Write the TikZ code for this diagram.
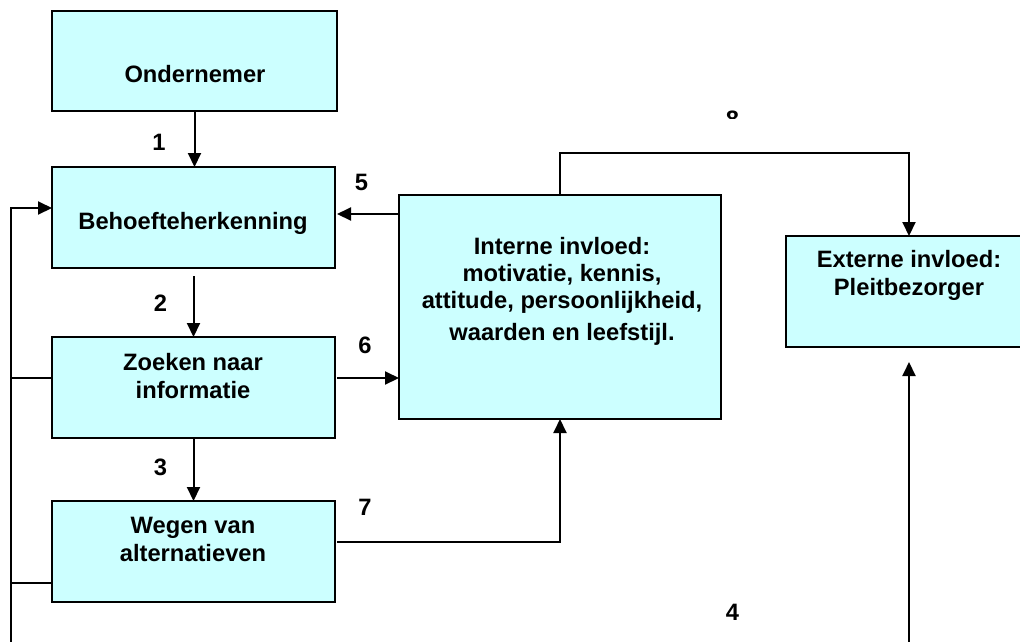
\documentclass[tikz,border=0pt]{standalone}
\usepackage{fontspec}
\setmainfont{Liberation Sans}
\usetikzlibrary{arrows.meta,calc}
\definecolor{boxfill}{HTML}{CCFFFF}
\begin{document}
\begin{tikzpicture}[x=1pt,y=-1pt,
  box/.style={draw=black, line width=2pt, fill=boxfill, inner sep=0pt, outer sep=0pt, anchor=north west},
  txt/.style={anchor=base, inner sep=0pt, font=\fontsize{23.7}{27}\selectfont\bfseries},
  conn/.style={line width=2pt, -{Triangle[length=14pt,width=13pt]}},
  wire/.style={line width=2pt}]
\useasboundingbox (0,0) rectangle (1020,641);
% boxes
\node[box, minimum width=285pt, minimum height=100pt] (ond) at (52,11) {};
\node[box, minimum width=283pt, minimum height=101pt] (beh) at (52,167) {};
\node[box, minimum width=283pt, minimum height=101pt] (zoe) at (52,337) {};
\node[box, minimum width=283pt, minimum height=101pt] (weg) at (52,501) {};
\node[box, minimum width=322pt, minimum height=224pt] (int) at (399,195) {};
\node[box, minimum width=246pt, minimum height=111pt] (ext) at (786,236) {};
% box texts
\node[txt] (ondt) at (195,82) {Ondernemer};
\node[txt] (beht) at (193,229) {Behoefteherkenning};
\node[txt] (zoe1) at (193,370) {Zoeken naar};
\node[txt] (zoe2) at (193,398) {informatie};
\node[txt] (weg1) at (193,533) {Wegen van};
\node[txt] (weg2) at (193,561) {alternatieven};
\node[txt] (int1) at (562,254) {Interne invloed:};
\node[txt] (int2) at (562,281.5) {motivatie, kennis,};
\node[txt] (int3) at (562,308.5) {attitude, persoonlijkheid,};
\node[txt] (int4) at (562,340) {waarden en leefstijl.};
\node[txt] (ext1) at (909,267) {Externe invloed:};
\node[txt] (ext2) at (909,295) {Pleitbezorger};
% numbers
\node[txt] (n1) at (159,150) {1};
\node[txt] (n2) at (160.5,311.7) {2};
\node[txt] (n3) at (160.5,475) {3};
\node[txt] (n4) at (732.5,620) {4};
\node[txt] (n5) at (361.5,190) {5};
\node[txt] (n6) at (365,353) {6};
\node[txt] (n7) at (365,515) {7};
\begin{scope}
\clip (700,100) rectangle (770,118.8);
\node[txt] (n8) at (732.5,127) {8};
\end{scope}
% connectors
\draw[conn] (ond.south) -- (ond.south |- beh.north);
\draw[conn] ($(beh.south)+(0,8)$) -- (beh.south |- zoe.north);
\draw[conn] (zoe.south) -- (zoe.south |- weg.north);
\draw[conn] (int.west |- {$(beh.east)+(0,-3.5)$}) -- ($(beh.east)+(2,-3.5)$);
\draw[conn] ($(zoe.east)+(2,-9.5)$) -- (int.west |- {$(zoe.east)+(0,-9.5)$});
\draw[conn] ($(weg.east)+(2,-9.5)$) -| (int.south);
\coordinate (c8) at (909,153);
\draw[conn] (int.north) |- (c8) -- (c8 |- ext.north);
\coordinate (b4) at (909,660);
\draw[conn] (b4) -- ($(ext.south)+(0,15)$);
\coordinate (lb) at (11,660);
\draw[conn] (lb) |- ($(beh.west)+(0,-9.5)$);
\draw[wire] ($(zoe.west)+(0,-9.5)$) -- (lb |- {$(zoe.west)+(0,-9.5)$});
\draw[wire] ($(weg.west)+(0,31)$) -- (lb |- {$(weg.west)+(0,31)$});
\end{tikzpicture}
\end{document}
